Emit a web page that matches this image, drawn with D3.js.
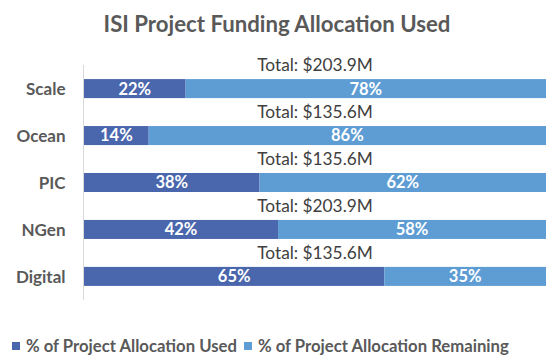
<!DOCTYPE html>
<html><head><meta charset="utf-8">
<script src="https://cdn.jsdelivr.net/npm/d3@7"></script>
<style>body{margin:0;background:#fff;}svg{display:block;}</style>
</head><body>
<svg id="c" width="555" height="359"></svg>
<script>
const categories = ["Scale","Ocean","PIC","NGen","Digital"];
const usedPct = [22,14,38,42,65];
const remainingPct = [78,86,62,58,35];
const totals = ["$203.9M","$135.6M","$135.6M","$203.9M","$135.6M"];
const seriesNames = ["% of Project Allocation Used","% of Project Allocation Remaining"];
const colors = ["#4A66AC","#5E9DD3"];
const FONT = "Lato, 'Open Sans', sans-serif";

const svg = d3.select("#c");
const x = d3.scaleLinear().domain([0,100]).range([84,546]);
const y = d3.scaleBand().domain(categories).range([65,300]).paddingInner(0.595).paddingOuter(0.3);

svg.append("text").attr("x",277).attr("y",32).attr("text-anchor","middle")
  .attr("font-family",FONT).attr("font-weight","bold").attr("font-size",22.2).attr("fill","#595959")
  .text("ISI Project Funding Allocation Used");

svg.append("line").attr("x1",83.5).attr("x2",83.5).attr("y1",65).attr("y2",300)
  .attr("stroke","#d9d9d9").attr("stroke-width",1);

const stackData = categories.map((c,i)=>({cat:c, used:usedPct[i], remaining:remainingPct[i]}));
const stack = d3.stack().keys(["used","remaining"])(stackData);

stack.forEach((layer,li)=>{
  const g = svg.append("g");
  g.selectAll("rect").data(layer).join("rect")
    .attr("x",d=>x(d[0])).attr("width",d=>x(d[1])-x(d[0]))
    .attr("y",d=>y(d.data.cat)).attr("height",y.bandwidth())
    .attr("fill",colors[li]);
  g.selectAll("text").data(layer).join("text")
    .attr("x",d=>(x(d[0])+x(d[1]))/2).attr("y",d=>y(d.data.cat)+y.bandwidth()/2)
    .attr("dy","0.36em").attr("text-anchor","middle")
    .attr("font-family",FONT).attr("font-weight","bold").attr("font-size",16.5).attr("fill","#fff")
    .text(d=>(d[1]-d[0])+"%");
});

svg.append("g").selectAll("text").data(categories).join("text")
  .attr("x",65.5).attr("y",d=>y(d)+y.bandwidth()/2).attr("dy","0.36em").attr("text-anchor","end")
  .attr("font-family",FONT).attr("font-weight","bold").attr("font-size",17).attr("fill","#595959")
  .text(d=>d);

svg.append("g").selectAll("text").data(categories).join("text")
  .attr("x",(x(0)+x(100))/2).attr("y",d=>y(d)-8).attr("text-anchor","middle")
  .attr("font-family",FONT).attr("font-size",17.3).attr("fill","#404040")
  .text((d,i)=>"Total: "+totals[i]);

// legend
const leg = svg.append("g");
const legItems = [{x:12,name:seriesNames[0],c:colors[0]},{x:244,name:seriesNames[1],c:colors[1]}];
legItems.forEach(it=>{
  leg.append("rect").attr("x",it.x).attr("y",342).attr("width",8).attr("height",8).attr("fill",it.c);
  leg.append("text").attr("x",it.x+14).attr("y",346).attr("dy","0.36em")
    .attr("font-family",FONT).attr("font-weight","bold").attr("font-size",16.7).attr("fill","#595959")
    .text(it.name);
});
</script>
</body></html>
